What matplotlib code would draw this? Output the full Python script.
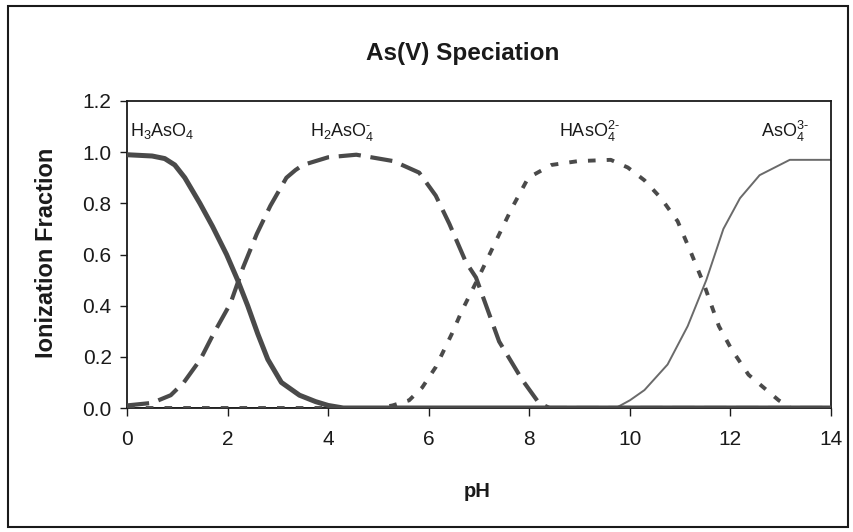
import matplotlib
matplotlib.use("Agg")
import matplotlib.pyplot as plt
from matplotlib.patches import Rectangle
from matplotlib import font_manager

# ---------------- data ----------------
ph_h3 = [0, 0.5, 0.75, 0.95, 1.15, 1.45, 1.7, 1.98, 2.2, 2.4, 2.6, 2.8, 3.07, 3.43, 3.75, 4.0, 4.3, 14]
fr_h3 = [0.99, 0.985, 0.975, 0.95, 0.90, 0.80, 0.71, 0.60, 0.50, 0.40, 0.29, 0.19, 0.10, 0.05, 0.025, 0.01, 0.0, 0.0]

ph_h2 = [0, 0.5, 0.87, 1.13, 1.46, 1.72, 2.06, 2.31, 2.58, 2.85, 3.17, 3.35, 3.5, 3.75, 4.0, 4.56,
         5.3, 5.81, 6.14, 6.41, 6.74, 6.94, 7.4, 7.86, 8.19, 8.4, 14]
fr_h2 = [0.01, 0.02, 0.05, 0.10, 0.19, 0.29, 0.41, 0.55, 0.68, 0.79, 0.90, 0.93, 0.95, 0.965, 0.98, 0.99,
         0.965, 0.92, 0.83, 0.72, 0.57, 0.51, 0.26, 0.11, 0.02, 0.0, 0.0]

ph_h1 = [0, 5.0, 5.28, 5.61, 5.87, 6.14, 6.46, 6.66, 6.99, 7.33, 7.65, 7.98, 8.44, 8.97,
         9.62, 9.96, 10.29, 10.62, 10.95, 11.21, 11.48, 11.77, 12.02, 12.36, 12.96, 13.2, 14]
fr_h1 = [0, 0, 0.01, 0.03, 0.08, 0.16, 0.29, 0.38, 0.51, 0.65, 0.78, 0.90, 0.95, 0.965,
         0.97, 0.94, 0.89, 0.82, 0.73, 0.61, 0.48, 0.32, 0.23, 0.13, 0.03, 0.0, 0.0]

ph_as = [0, 9.72, 10.0, 10.29, 10.75, 11.15, 11.52, 11.86, 12.19, 12.58, 13.18, 14]
fr_as = [0, 0, 0.03, 0.07, 0.17, 0.32, 0.50, 0.70, 0.82, 0.91, 0.97, 0.97]

species = ['$\\mathregular{H_3AsO_4}$', '$\\mathregular{H_2AsO_4^{\u2010}}$',
           '$\\mathregular{HAsO_4^{2\u2010}}$', '$\\mathregular{AsO_4^{3\u2010}}$']
species_x = [0.06, 3.63, 8.59, 12.6]
species_y = [1.065, 1.065, 1.06, 1.06]

xticks = [0, 2, 4, 6, 8, 10, 12, 14]
yticks = [0.0, 0.2, 0.4, 0.6, 0.8, 1.0, 1.2]
title = "As(V) Speciation"
xlabel = "pH"
ylabel = "Ionization Fraction"

# ---------------- fonts ----------------
avail = {f.name for f in font_manager.fontManager.ttflist}
has_narrow = 'Liberation Sans Narrow' in avail
regular = ['Liberation Sans', 'DejaVu Sans']
tick_fam = ['Liberation Sans Narrow', 'Liberation Sans', 'DejaVu Sans'] if has_narrow else regular
plt.rcParams['font.family'] = regular
plt.rcParams['lines.scale_dashes'] = False

W, H = 854, 532
fig = plt.figure(figsize=(W / 100, H / 100), dpi=100)
ax = fig.add_axes([127 / W, 1 - 408 / H, (831 - 127) / W, (408 - 101) / H])

line_col = '#4a4a4a'
ax.plot(ph_as, fr_as, color='#6a6a6a', lw=1.4, solid_capstyle='butt', zorder=2)
ax.plot(ph_h1, fr_h1, color=line_col, lw=2.8, dashes=(5.5, 8), zorder=3)
ax.plot(ph_h2, fr_h2, color=line_col, lw=3.0, dashes=(16, 7), zorder=3)
ax.plot(ph_h3, fr_h3, color=line_col, lw=3.6, zorder=4)

ax.set_xlim(0, 14)
ax.set_ylim(0, 1.2)
ax.set_xticks(xticks)
ax.set_yticks(yticks)
ax.set_xticklabels([str(v) for v in xticks])
ax.set_yticklabels([f"{v:.1f}" for v in yticks])

tick_size = 16.5 if has_narrow else 15
for lab in ax.get_xticklabels() + ax.get_yticklabels():
    lab.set_fontfamily(tick_fam)
    lab.set_fontsize(tick_size)
    lab.set_color('#1a1a1a')
ax.tick_params(axis='x', direction='out', length=6, width=1.0, pad=10, colors='#1a1a1a')
ax.tick_params(axis='y', direction='out', length=5, width=1.0, pad=6, colors='#1a1a1a')
for s in ax.spines.values():
    s.set_linewidth(1.3)
    s.set_color('#1a1a1a')

for txt, x, y in zip(species, species_x, species_y):
    ax.text(x, y, txt, fontsize=13, family=regular, color='#1a1a1a',
            ha='left', va='baseline')

fig.text(463 / W, 1 - 60 / H, title, fontsize=20 if has_narrow else 17.5,
         fontweight='bold', family=tick_fam, ha='center', va='baseline', color='#1a1a1a')
fig.text(477 / W, 1 - 497 / H, xlabel, fontsize=16 if has_narrow else 14.5,
         fontweight='bold', family=tick_fam, ha='center', va='baseline', color='#1a1a1a')
fig.text(47 / W, 1 - 253 / H, ylabel, fontsize=17, fontweight='bold', family=regular,
         rotation=90, ha='center', va='center', color='#1a1a1a')

fig.patches.append(Rectangle((8 / W, 1 - 527 / H), 840 / W, 521 / H,
                             transform=fig.transFigure, fill=False,
                             edgecolor='#1a1a1a', lw=1.5))

fig.savefig('out.png', dpi=100)
